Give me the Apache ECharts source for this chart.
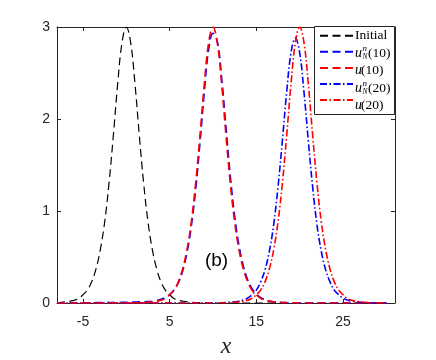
<!DOCTYPE html>
<html>
<head>
<meta charset="utf-8">
<script src="https://cdn.jsdelivr.net/npm/echarts@6.0.0/dist/echarts.min.js"></script>
<style>
  html, body { margin: 0; padding: 0; background: #fff; }
  #chart { width: 436px; height: 360px; }
</style>
</head>
<body>
<div id="chart"></div>
<script>
// x grid, -8 .. 30 in steps of 0.5
const xs = [
  -8, -7.5, -7, -6.5, -6, -5.5, -5, -4.5, -4, -3.5,
  -3, -2.5, -2, -1.5, -1, -0.5, 0, 0.5, 1, 1.5,
  2, 2.5, 3, 3.5, 4, 4.5, 5, 5.5, 6, 6.5,
  7, 7.5, 8, 8.5, 9, 9.5, 10, 10.5, 11, 11.5,
  12, 12.5, 13, 13.5, 14, 14.5, 15, 15.5, 16, 16.5,
  17, 17.5, 18, 18.5, 19, 19.5, 20, 20.5, 21, 21.5,
  22, 22.5, 23, 23.5, 24, 24.5, 25, 25.5, 26, 26.5,
  27, 27.5, 28, 28.5, 29, 29.5, 30
];

const initial = [
  0.005, 0.008, 0.012, 0.02, 0.03, 0.05, 0.09, 0.14, 0.23, 0.37,
  0.58, 0.88, 1.3, 1.82, 2.38, 2.83, 3.0, 2.83, 2.38, 1.82,
  1.3, 0.88, 0.58, 0.37, 0.23, 0.14, 0.09, 0.05, 0.03, 0.02,
  0.012, 0.008, 0.005, 0.003, 0.002, 0.001, 0, 0, 0, 0,
  0, 0, 0, 0, 0, 0, 0, 0, 0, 0,
  0, 0, 0, 0, 0, 0, 0, 0, 0, 0,
  0, 0, 0, 0, 0, 0, 0, 0, 0, 0,
  0, 0, 0, 0, 0, 0, 0
];

const uN10 = [
  0, 0, 0, 0, 0, 0, 0, 0, 0.002, 0.003,
  0.003, 0.004, 0.004, 0.005, 0.005, 0.006, 0.007, 0.008, 0.01, 0.012,
  0.013, 0.015, 0.018, 0.026, 0.04, 0.06, 0.09, 0.14, 0.22, 0.35,
  0.55, 0.84, 1.24, 1.75, 2.3, 2.76, 2.93, 2.84, 2.44, 1.9,
  1.37, 0.94, 0.62, 0.4, 0.25, 0.155, 0.095, 0.058, 0.035, 0.021,
  0.013, 0.008, 0.005, 0.003, 0.002, 0.001, 0, 0, 0, 0,
  0, 0, 0, 0, 0, 0, 0, 0, 0, 0,
  0, 0, 0, 0, 0, 0, 0
];

const u10 = [
  0, 0, 0, 0, 0, 0, 0, 0, 0, 0,
  0, 0, 0, 0, 0, 0, 0, 0.001, 0.002, 0.003,
  0.005, 0.008, 0.012, 0.02, 0.03, 0.05, 0.09, 0.14, 0.23, 0.37,
  0.58, 0.88, 1.3, 1.82, 2.38, 2.83, 3.0, 2.83, 2.38, 1.82,
  1.3, 0.88, 0.58, 0.37, 0.23, 0.14, 0.09, 0.05, 0.03, 0.02,
  0.012, 0.008, 0.005, 0.003, 0.002, 0.001, 0, 0, 0, 0,
  0, 0, 0, 0, 0, 0, 0, 0, 0, 0,
  0, 0, 0, 0, 0, 0, 0
];

const uN20 = [
  0, 0, 0, 0, 0, 0, 0, 0, 0, 0,
  0, 0, 0, 0, 0, 0, 0, 0, 0, 0,
  0, 0, 0, 0, 0, 0, 0, 0, 0, 0,
  0, 0, 0, 0, 0, 0, 0.001, 0.002, 0.003, 0.005,
  0.008, 0.013, 0.02, 0.032, 0.053, 0.09, 0.14, 0.23, 0.36, 0.56,
  0.85, 1.26, 1.76, 2.29, 2.72, 2.88, 2.72, 2.29, 1.76, 1.26,
  0.85, 0.56, 0.36, 0.23, 0.14, 0.09, 0.053, 0.032, 0.02, 0.013,
  0.008, 0.005, 0.003, 0.002, 0.001, 0, 0
];

const u20 = [
  0, 0, 0, 0, 0, 0, 0, 0, 0, 0,
  0, 0, 0, 0, 0, 0, 0, 0, 0, 0,
  0, 0, 0, 0, 0, 0, 0, 0, 0, 0,
  0, 0, 0, 0, 0, 0, 0, 0.001, 0.002, 0.003,
  0.005, 0.008, 0.012, 0.02, 0.03, 0.05, 0.09, 0.14, 0.23, 0.37,
  0.58, 0.88, 1.3, 1.82, 2.38, 2.83, 3.0, 2.83, 2.38, 1.82,
  1.3, 0.88, 0.58, 0.37, 0.23, 0.14, 0.09, 0.05, 0.03, 0.02,
  0.012, 0.008, 0.005, 0.003, 0.002, 0.001, 0
];

const xTicks = [-5, 5, 15, 25];

const axisColor = "#262626";
const dashed = [8, 4.5];
const dashDot = [7, 2.5, 1.5, 2.5];

const toPairs = arr => xs.map((x, i) => [x, arr[i]]);

function makeLine(name, arr, color, type, width) {
  return {
    name: name,
    type: "line",
    data: toPairs(arr),
    symbol: "none",
    smooth: 0.4,
    lineStyle: { color: color, type: type, width: width },
    itemStyle: { color: color }
  };
}

const serif = '"Liberation Serif", "DejaVu Serif", serif';
function txt(text, x, y, size, italic) {
  return {
    type: "text",
    x: x,
    y: y,
    z: 10,
    style: {
      text: text,
      fill: "#000",
      font: (italic ? "italic " : "") + size + "px " + serif,
      verticalAlign: "middle"
    }
  };
}

// legend labels (u with sub/superscripts drawn as separate texts)
const rows = [35.7, 53.3, 70.7, 88.3, 105.7];
const labels = [
  txt("Initial", 355, rows[0], 13.5, false),
  txt("u", 355, rows[1], 14, true),
  txt("n", 362.5, rows[1] - 4.5, 9, true),
  txt("N", 362.5, rows[1] + 4, 7.5, true),
  txt("(10)", 368, rows[1], 13.5, false),
  txt("u", 355, rows[2], 14, true),
  txt("(10)", 361, rows[2], 13.5, false),
  txt("u", 355, rows[3], 14, true),
  txt("n", 362.5, rows[3] - 4.5, 9, true),
  txt("N", 362.5, rows[3] + 4, 7.5, true),
  txt("(20)", 368, rows[3], 13.5, false),
  txt("u", 355, rows[4], 14, true),
  txt("(20)", 361, rows[4], 13.5, false)
];

const chart = echarts.init(document.getElementById("chart"));

const option = {
  animation: false,
  grid: { left: 57, right: 41, top: 27, bottom: 57, outerBoundsMode: "none", containLabel: false },
  legend: {
    orient: "vertical",
    left: 319,
    top: 28.7,
    padding: 0,
    itemWidth: 33,
    itemHeight: 14,
    itemGap: 3.5,
    z: 6,
    itemStyle: { opacity: 0 },
    formatter: () => "",
    textStyle: { fontSize: 10, padding: 0 },
    data: ["Initial", "uN10", "u10", "uN20", "u20"]
  },
  graphic: [
    {
      type: "rect",
      z: 5,
      shape: { x: 314.5, y: 26.5, width: 80, height: 88 },
      style: { fill: "#fff", stroke: axisColor, lineWidth: 1 }
    },
    ...labels,
    {
      type: "text",
      x: 216.5,
      y: 260.5,
      z: 10,
      style: {
        text: "(b)",
        fill: "#000",
        font: '19px "Liberation Sans", Arial, sans-serif',
        align: "center",
        verticalAlign: "middle"
      }
    }
  ],
  xAxis: [
    {
      type: "value",
      min: -8,
      max: 31,
      position: "bottom",
      axisLine: { onZero: false, lineStyle: { color: axisColor, width: 1 } },
      axisTick: { inside: true, length: 4, customValues: xTicks, lineStyle: { color: axisColor } },
      axisLabel: {
        customValues: xTicks,
        color: axisColor,
        fontSize: 14,
        fontFamily: '"Liberation Sans", Arial, sans-serif',
        margin: 12
      },
      splitLine: { show: false },
      name: "x",
      nameLocation: "middle",
      nameGap: 32,
      nameTextStyle: {
        fontFamily: serif,
        fontStyle: "italic",
        fontSize: 24,
        color: axisColor
      }
    },
    {
      type: "value",
      min: -8,
      max: 31,
      position: "top",
      axisLine: { onZero: false, lineStyle: { color: axisColor, width: 1 } },
      axisTick: { inside: true, length: 4, customValues: xTicks, lineStyle: { color: axisColor } },
      axisLabel: { show: false },
      splitLine: { show: false }
    }
  ],
  yAxis: [
    {
      type: "value",
      min: 0,
      max: 3,
      interval: 1,
      axisLine: { show: true, onZero: false, lineStyle: { color: axisColor, width: 1 } },
      axisTick: { show: true, inside: true, length: 4, lineStyle: { color: axisColor } },
      axisLabel: {
        color: axisColor,
        fontSize: 14,
        fontFamily: '"Liberation Sans", Arial, sans-serif',
        margin: 7
      },
      splitLine: { show: false }
    },
    {
      type: "value",
      min: 0,
      max: 3,
      interval: 1,
      position: "right",
      axisLine: { show: true, onZero: false, lineStyle: { color: axisColor, width: 1 } },
      axisTick: { show: true, inside: true, length: 4, lineStyle: { color: axisColor } },
      axisLabel: { show: false },
      splitLine: { show: false }
    }
  ],
  series: [
    makeLine("Initial", initial, "#000000", dashed, 1.2),
    makeLine("uN10", uN10, "#0000ff", dashed, 1.7),
    makeLine("u10", u10, "#ff0000", dashed, 1.7),
    makeLine("uN20", uN20, "#0000ff", dashDot, 1.6),
    makeLine("u20", u20, "#ff0000", dashDot, 1.6)
  ]
};

chart.setOption(option);
</script>
</body>
</html>
